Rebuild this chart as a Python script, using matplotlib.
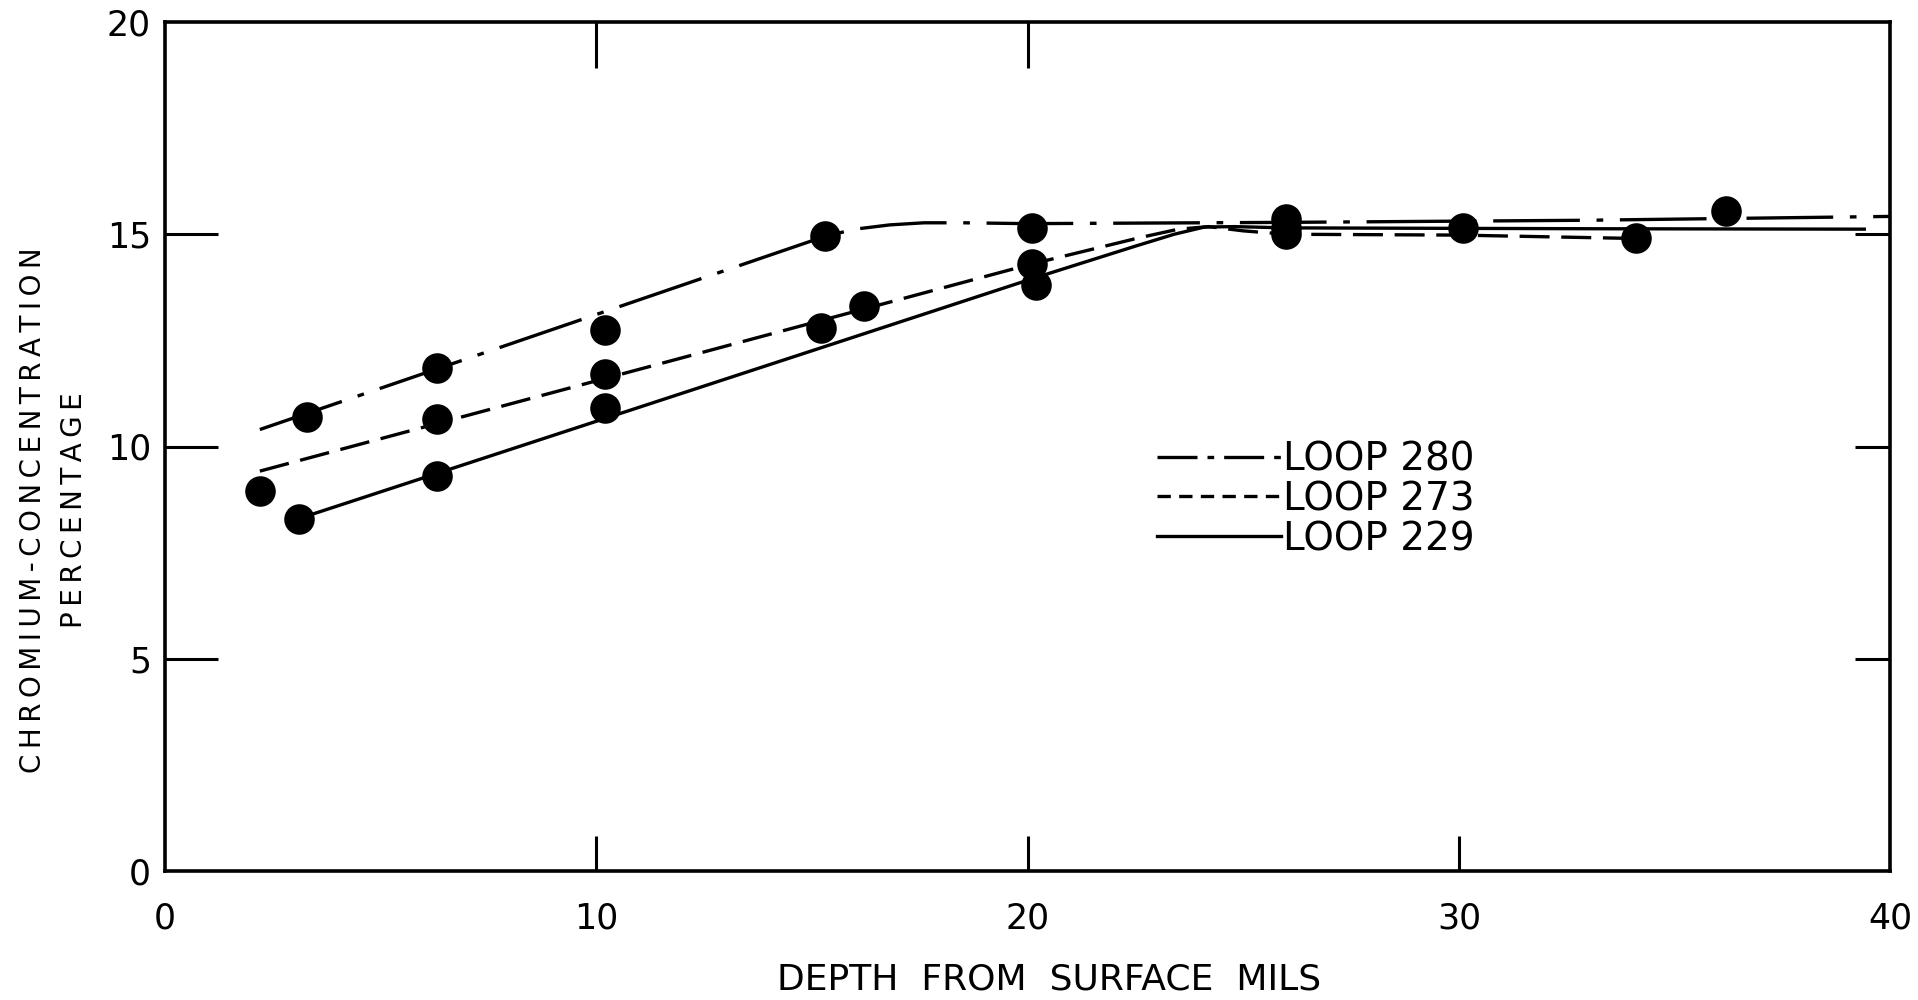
import matplotlib
matplotlib.use("Agg")
import matplotlib.pyplot as plt
from matplotlib.lines import Line2D

# measured points (depth in mils, chromium %)
loop280_x = [3.3, 6.3, 10.2, 15.3, 20.1, 26.0, 36.2]
loop280_y = [10.7, 11.85, 12.75, 14.95, 15.15, 15.35, 15.55]
loop273_x = [2.2, 6.3, 10.2, 15.2, 16.2, 20.1, 26.0, 34.1]
loop273_y = [8.95, 10.65, 11.7, 12.8, 13.3, 14.3, 15.0, 14.9]
loop229_x = [3.1, 6.3, 10.2, 20.2, 26.0, 30.1]
loop229_y = [8.3, 9.3, 10.9, 13.8, 15.15, 15.15]

# hand-drawn curves, vertices
curve280_x = [2.2, 15.3, 16.0, 16.8, 17.6, 18.5, 20.0, 26.0, 33.0, 40.0]
curve280_y = [10.4, 14.95, 15.12, 15.22, 15.27, 15.27, 15.25, 15.28, 15.33, 15.42]
curve273_x = [2.2, 20.1, 22.6, 23.5, 24.2, 25.0, 26.0, 30.0, 34.1]
curve273_y = [9.42, 14.3, 14.92, 15.12, 15.18, 15.08, 15.0, 14.98, 14.9]
curve229_x = [3.1, 20.1, 22.5, 23.4, 24.1, 24.8, 26.0, 33.0, 39.4]
curve229_y = [8.3, 13.95, 14.72, 15.0, 15.17, 15.18, 15.15, 15.13, 15.12]

labels = ["LOOP 280", "LOOP 273", "LOOP 229"]
xticks = [0, 10, 20, 30, 40]
yticks = [0, 5, 10, 15, 20]

fig = plt.figure(figsize=(19.18, 10), dpi=100)
ax = fig.add_axes([0.086, 0.129, 0.8995, 0.849])

lw = 2.4
styles = [(0, (26, 5, 2, 5)), (0, (9, 3.5)), "-"]
curves = [(curve280_x, curve280_y), (curve273_x, curve273_y), (curve229_x, curve229_y)]
for (cx, cy), ls, lab in zip(curves, styles, labels):
    ax.plot(cx, cy, color="black", lw=lw, linestyle=ls, label=lab)

for px, py in [(loop280_x, loop280_y), (loop273_x, loop273_y), (loop229_x, loop229_y)]:
    ax.plot(px, py, "o", color="black", ms=22, mew=0, zorder=5)

ax.set_xlim(0, 40)
ax.set_ylim(0, 20)
ax.set_xticks(xticks)
ax.set_yticks(yticks)
ax.set_xticklabels([str(t) for t in xticks])
ax.set_yticklabels([str(t) for t in yticks])
ax.tick_params(direction="in", width=2.2, labelsize=25, color="black")
ax.tick_params(axis="x", length=25, pad=22)
ax.tick_params(axis="y", length=38, pad=10)
# no tick marks at the corners
for t in (ax.xaxis.get_major_ticks()[0], ax.xaxis.get_major_ticks()[-1],
          ax.yaxis.get_major_ticks()[0], ax.yaxis.get_major_ticks()[-1]):
    t.tick1line.set_visible(False)
for s in ax.spines.values():
    s.set_linewidth(2.6)

top = ax.secondary_xaxis("top")
top.set_xticks([10, 20])
top.set_xticklabels([])
top.tick_params(direction="in", length=33, width=2.2)
top.spines["top"].set_visible(False)
right = ax.secondary_yaxis("right")
right.set_yticks([5, 10, 15])
right.set_yticklabels([])
right.tick_params(direction="in", length=25, width=2.2)
right.spines["right"].set_visible(False)

handles = [Line2D([0], [0], color="black", lw=lw, linestyle=ls) for ls in [(0, (12, 3, 2, 3)), (0, (4, 2.5)), "-"]]
ax.legend(handles, labels, loc="upper left", bbox_to_anchor=(23.0, 10.15),
          bbox_transform=ax.transData, frameon=False, fontsize=28,
          handlelength=3.2, handletextpad=0.05, labelspacing=0.05,
          borderpad=0, borderaxespad=0)

ylab = ["CHROMIUM-CONCENTRATION", "PERCENTAGE"]
fig.text(0.028, 0.49, "\n".join("\u2009".join(s) for s in ylab),
         rotation=90, ha="center", va="center", fontsize=20, linespacing=1.6)
fig.text(0.547, 0.02, "DEPTH  FROM  SURFACE  MILS", ha="center", va="center", fontsize=26)

fig.savefig("out.png", dpi=100)
